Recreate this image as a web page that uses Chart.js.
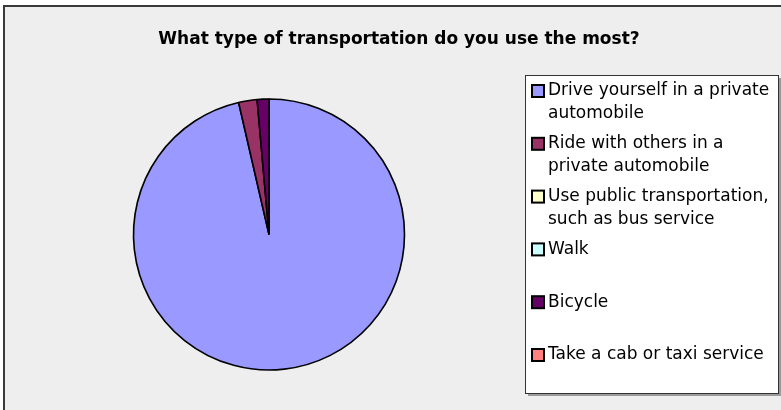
<!DOCTYPE html>
<html>
<head>
<meta charset="utf-8">
<script src="https://cdn.jsdelivr.net/npm/chart.js@4.4.0/dist/chart.umd.min.js"></script>
<style>
    html, body { margin: 0; padding: 0; background: #ffffff; }
    #wrap { position: relative; width: 781px; height: 410px; }
</style>
</head>
<body>
<div id="wrap"><canvas id="chart-transport" width="781" height="410"></canvas></div>
<script>
const chartTitle = 'What type of transportation do you use the most?';
const categories = [
    ['Drive yourself in a private', 'automobile'],
    ['Ride with others in a', 'private automobile'],
    ['Use public transportation,', 'such as bus service'],
    ['Walk'],
    ['Bicycle'],
    ['Take a cab or taxi service']
];
const shares = [96.4, 2.2, 0, 0, 1.4, 0];
const sliceColors = ['#9999ff', '#993366', '#ffffcc', '#ccffff', '#660066', '#ff8080'];

// frame, title and the boxed legend on the right
const framePlugin = {
    id: 'frame',
    beforeDraw(chart) {
        const ctx = chart.ctx;
        ctx.save();
        ctx.fillStyle = '#ffffff';
        ctx.fillRect(0, 0, chart.width, chart.height);
        ctx.fillStyle = '#eeeeee';
        ctx.fillRect(4, 6, chart.width, chart.height);
        ctx.strokeStyle = '#3a3a3a';
        ctx.lineWidth = 2;
        ctx.beginPath();
        ctx.moveTo(4, chart.height);
        ctx.lineTo(4, 6);
        ctx.lineTo(chart.width, 6);
        ctx.stroke();

        ctx.fillStyle = '#000000';
        ctx.font = 'bold 17px "DejaVu Sans"';
        ctx.textAlign = 'center';
        ctx.textBaseline = 'middle';
        ctx.fillText(chartTitle, 399, 40);
        ctx.restore();
    },
    afterDraw(chart) {
        const ctx = chart.ctx;
        const box = {x: 525, y: 75, w: 253, h: 318};
        ctx.save();
        ctx.fillStyle = '#9a9a9a';
        ctx.fillRect(box.x + 3, box.y + 3, box.w, box.h);
        ctx.fillStyle = '#ffffff';
        ctx.fillRect(box.x, box.y, box.w, box.h);
        ctx.strokeStyle = '#333333';
        ctx.lineWidth = 1;
        ctx.strokeRect(box.x + 0.5, box.y + 0.5, box.w, box.h);

        const labels = chart.data.labels;
        const colors = chart.data.datasets[0].backgroundColor;
        ctx.font = '17px "DejaVu Sans"';
        ctx.textAlign = 'left';
        ctx.textBaseline = 'middle';
        labels.forEach((lines, i) => {
            const y = 91 + i * 52.8;
            ctx.fillStyle = colors[i];
            ctx.fillRect(532, y - 6, 12, 12);
            ctx.strokeStyle = '#000000';
            ctx.lineWidth = 2;
            ctx.strokeRect(532, y - 6, 12, 12);
            ctx.fillStyle = '#000000';
            lines.forEach((line, j) => {
                ctx.fillText(line, 548, y + j * 22.5);
            });
        });
        ctx.restore();
    }
};

const config = {
    type: 'pie',
    data: {
        labels: categories,
        datasets: [{
            data: shares,
            backgroundColor: sliceColors,
            borderColor: '#000000',
            borderWidth: 1.6
        }]
    },
    options: {
        responsive: false,
        animation: false,
        radius: 135.5,
        layout: {
            padding: {left: 128, right: 371, top: 94, bottom: 35}
        },
        plugins: {
            legend: {display: false},
            title: {display: false},
            tooltip: {enabled: false}
        }
    },
    plugins: [framePlugin]
};

new Chart(document.getElementById('chart-transport'), config);
</script>
</body>
</html>
